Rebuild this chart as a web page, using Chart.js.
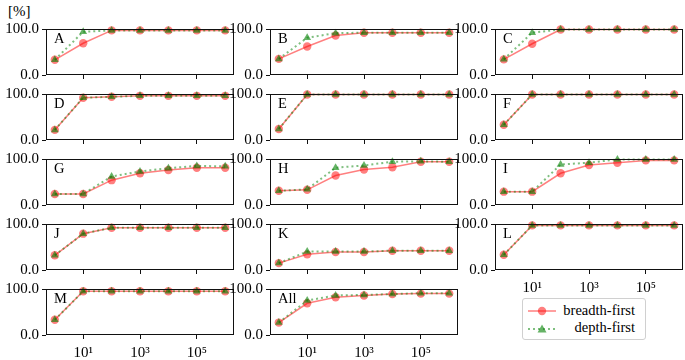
<!DOCTYPE html>
<html>
<head>
<meta charset="utf-8">
<script src="https://cdn.jsdelivr.net/npm/chart.js@4.4.1/dist/chart.umd.min.js"></script>
<style>
  body { margin:0; padding:0; background:#fff; font-family:'Liberation Serif'; }
  canvas { position:absolute; }
  #unit { position:absolute; left:8px; top:3px; font-size:15px; color:#000; }
  #legend { position:absolute; left:522px; top:298px; width:122px; height:40px; border:1px solid #d0d0d0; border-radius:3px; background:#fff; }
  .lrow { position:absolute; left:0; width:122px; height:16px; }
  .lrow svg { position:absolute; left:4px; top:1px; }
  .lrow span { position:absolute; right:10px; top:-1px; font-size:14.5px; color:#000; white-space:nowrap; }
</style>
</head>
<body>
<div id="unit">[%]</div>
<div id="legend">
  <div class="lrow" style="top:4px">
    <svg width="30" height="14"><line x1="1" y1="7" x2="29" y2="7" stroke="rgba(255,0,0,0.5)" stroke-width="1.5"/><circle cx="15" cy="7" r="4.2" fill="rgba(255,0,0,0.5)"/></svg>
    <span id="lbl0"></span>
  </div>
  <div class="lrow" style="top:21px">
    <svg width="30" height="14"><line x1="1" y1="8" x2="29" y2="8" stroke="rgba(0,128,0,0.5)" stroke-width="2" stroke-dasharray="2,3"/><polygon points="15,3.5 19.5,11.5 10.5,11.5" fill="rgba(0,128,0,0.6)"/></svg>
    <span id="lbl1"></span>
  </div>
</div>
<script>
// ---- data ----
const seriesNames = ['breadth-first', 'depth-first'];
const categories = ['A','B','C','D','E','F','G','H','I','J','K','L','M','All'];
const xValues = [1, 10, 100, 1000, 10000, 100000, 1000000];
const xTickValues = [10, 1000, 100000];
const xTickLabels = ['10\u00B9', '10\u00B3', '10\u2075'];
const yTickValues = [0, 100];

const bf_A = [33, 69, 97, 97, 97, 97, 97];
const df_A = [33, 94, 97, 97, 97, 97, 97];
const bf_B = [35, 62, 86, 92, 92, 92, 92];
const df_B = [35, 81, 91, 92, 92, 92, 92];
const bf_C = [34, 68, 99, 99, 99, 99, 99];
const df_C = [34, 92, 99, 99, 99, 99, 99];
const bf_D = [22, 92, 94, 96, 96, 96, 96];
const df_D = [22, 92, 94, 96, 96, 96, 96];
const bf_E = [24, 99, 99, 99, 99, 99, 99];
const df_E = [24, 99, 99, 99, 99, 99, 99];
const bf_F = [33, 99, 99, 99, 99, 99, 99];
const df_F = [33, 99, 99, 99, 99, 99, 99];
const bf_G = [24, 24, 54, 69, 76, 81, 81];
const df_G = [24, 24, 62, 73, 80, 85, 84];
const bf_H = [31, 33, 64, 77, 82, 94, 94];
const df_H = [31, 34, 81, 86, 94, 95, 94];
const bf_I = [29, 29, 69, 87, 92, 97, 97];
const df_I = [29, 29, 88, 92, 99, 99, 99];
const bf_J = [32, 79, 92, 92, 92, 92, 92];
const df_J = [32, 79, 92, 92, 92, 92, 92];
const bf_K = [15, 34, 39, 39, 42, 42, 42];
const df_K = [15, 40, 40, 40, 42, 42, 42];
const bf_L = [33, 97, 97, 97, 97, 97, 97];
const df_L = [33, 97, 97, 97, 97, 97, 97];
const bf_M = [33, 95, 95, 95, 95, 95, 95];
const df_M = [33, 95, 95, 95, 95, 95, 95];
const bf_All = [27, 69, 82, 86, 89, 90, 90];
const df_All = [27, 75, 86, 87, 89, 91, 91];

const breadthFirst = [bf_A,bf_B,bf_C,bf_D,bf_E,bf_F,bf_G,bf_H,bf_I,bf_J,bf_K,bf_L,bf_M,bf_All];
const depthFirst   = [df_A,df_B,df_C,df_D,df_E,df_F,df_G,df_H,df_I,df_J,df_K,df_L,df_M,df_All];
const showXLabels  = ['L','M','All'];

document.getElementById('lbl0').textContent = seriesNames[0];
document.getElementById('lbl1').textContent = seriesNames[1];

// ---- layout ----
const FONT = "'Liberation Serif'";
Chart.defaults.font.family = FONT;
const colLeft = [46, 270, 495];
const rowTop = [23, 88, 153, 218, 283];
const boxW = 188, boxH = 52;
const yAxisW = 46, xAxisH = 26, padTop = 6, padRight = 6;

const boxPlugin = {
  id: 'boxAndLabel',
  afterDraw(chart, args, opts) {
    const {ctx, chartArea: a} = chart;
    ctx.save();
    ctx.strokeStyle = '#111';
    ctx.lineWidth = 1;
    ctx.strokeRect(a.left + 0.5, a.top + 0.5, a.right - a.left - 1, a.bottom - a.top - 1);
    ctx.fillStyle = '#000';
    ctx.font = '14.5px ' + FONT;
    ctx.textBaseline = 'top';
    ctx.textAlign = 'left';
    ctx.fillText(opts.text, a.left + 8, a.top + 3);
    ctx.restore();
  }
};

categories.forEach((cat, i) => {
  const row = Math.floor(i / 3), col = i % 3;
  const cv = document.createElement('canvas');
  const W = yAxisW + boxW + padRight, H = padTop + boxH + xAxisH;
  cv.width = W; cv.height = H;
  cv.style.width = W + 'px'; cv.style.height = H + 'px';
  cv.style.left = (colLeft[col] - yAxisW) + 'px';
  cv.style.top = (rowTop[row] - padTop) + 'px';
  document.body.appendChild(cv);
  const showX = showXLabels.includes(cat);
  new Chart(cv, {
    type: 'line',
    data: {
      datasets: [
        {
          label: seriesNames[0],
          data: xValues.map((x, k) => ({x: x, y: breadthFirst[i][k]})),
          borderColor: 'rgba(255,0,0,0.5)',
          backgroundColor: 'rgba(255,0,0,0.5)',
          borderWidth: 1.5,
          pointStyle: 'circle',
          pointRadius: 4.2,
          pointBorderWidth: 0,
          pointBackgroundColor: 'rgba(255,0,0,0.5)',
          tension: 0,
          order: 1,
          clip: 6
        },
        {
          label: seriesNames[1],
          data: xValues.map((x, k) => ({x: x, y: depthFirst[i][k]})),
          borderColor: 'rgba(0,128,0,0.5)',
          backgroundColor: 'rgba(0,128,0,0.6)',
          borderWidth: 2,
          borderDash: [2, 3],
          pointStyle: 'triangle',
          pointRadius: 4.5,
          pointBorderWidth: 0,
          pointBackgroundColor: 'rgba(0,128,0,0.6)',
          tension: 0,
          order: 0,
          clip: 6
        }
      ]
    },
    options: {
      responsive: false,
      animation: false,
      devicePixelRatio: 1,
      layout: { padding: { top: padTop, right: padRight, left: 0, bottom: 0 } },
      plugins: { legend: { display: false }, tooltip: { enabled: false }, boxAndLabel: { text: cat } },
      events: [],
      scales: {
        x: {
          type: 'logarithmic',
          min: Math.pow(10, -0.31),
          max: Math.pow(10, 6.31),
          afterFit(scale) { scale.height = xAxisH; },
          afterBuildTicks(scale) { scale.ticks = xTickValues.map(v => ({value: v})); },
          border: { display: false },
          grid: { display: true, drawOnChartArea: false, drawTicks: true, tickLength: 4, color: '#111', lineWidth: 1 },
          ticks: {
            display: showX,
            autoSkip: false,
            maxRotation: 0,
            padding: 5,
            color: '#000',
            font: { family: FONT, size: 15 },
            callback: (v) => { const k = xTickValues.indexOf(v); return k >= 0 ? xTickLabels[k] : ''; }
          }
        },
        y: {
          type: 'linear',
          min: 0,
          max: 100,
          afterFit(scale) { scale.width = yAxisW; },
          afterBuildTicks(scale) { scale.ticks = yTickValues.map(v => ({value: v})); },
          border: { display: false },
          grid: { display: true, drawOnChartArea: false, drawTicks: true, tickLength: 4, color: '#111', lineWidth: 1 },
          ticks: {
            padding: 3,
            color: '#000',
            font: { family: FONT, size: 15 },
            callback: (v) => Number(v).toFixed(1)
          }
        }
      }
    },
    plugins: [boxPlugin]
  });
});
</script>
</body>
</html>
